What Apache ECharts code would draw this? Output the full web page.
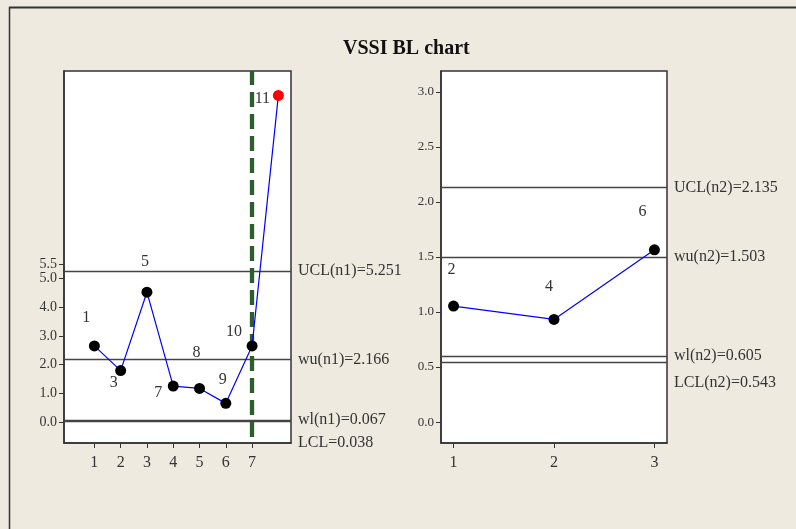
<!DOCTYPE html>
<html>
<head>
<meta charset="utf-8">
<script src="https://cdn.jsdelivr.net/npm/echarts@6/dist/echarts.min.js"></script>
<style>html,body{margin:0;padding:0;background:#EEEAE0;}#c{width:796px;height:529px;}</style>
</head>
<body>
<div id="c"></div>
<script>
// ---- data ----
const titleText = 'VSSI BL chart';
const n1X = [1, 2, 3, 4, 5, 6, 7, 8];
const n1Values = [2.65, 1.79, 4.52, 1.25, 1.17, 0.65, 2.65, 11.37];
const n1Ids = ['1', '3', '5', '7', '8', '9', '10', '11'];
const n1XTicks = [1, 2, 3, 4, 5, 6, 7];
const n1YTicks = [0, 1, 2, 3, 4, 5, 5.5];
const n1LimitNames = ['UCL(n1)', 'wu(n1)', 'wl(n1)', 'LCL'];
const n1LimitValues = [5.251, 2.166, 0.067, 0.038];
const n1Split = 7;

const n2X = [1, 2, 3];
const n2Values = [1.054, 0.933, 1.565];
const n2Ids = ['2', '4', '6'];
const n2XTicks = [1, 2, 3];
const n2YTicks = [0, 0.5, 1, 1.5, 2, 2.5, 3];
const n2LimitNames = ['UCL(n2)', 'wu(n2)', 'wl(n2)', 'LCL(n2)'];
const n2LimitValues = [2.135, 1.503, 0.605, 0.543];

// ---- styles (label placement per point) ----
const n1LabelOffsets = [[-8,-28],[-7,12],[-2,-30],[-15,7],[-3,-36],[-3,-24],[-18,-14],[-16,3]];
const n2LabelOffsets = [[-2,-36],[-5,-33],[-12,-38]];

const FONT = '"Liberation Serif", "DejaVu Serif", serif';
const TXT = '#333';

function pts(xs, ys, ids, offs, ucl) {
  return xs.map((x, i) => ({
    value: [x, ys[i]],
    itemStyle: { color: ys[i] > ucl ? '#ff0000' : '#000000' },
    label: { show: true, position: 'inside', offset: offs[i], formatter: ids[i],
             fontFamily: FONT, fontSize: 16, color: TXT }
  }));
}
function limitLines(names, vals, lastShift) {
  return vals.map((v, i) => ({
    yAxis: v,
    label: {
      show: true, position: 'end', distance: 7, fontFamily: FONT, fontSize: 16, color: TXT,
      lineHeight: lastShift,
      formatter: (i === vals.length - 1 ? '\n\n' : '') + names[i] + '=' + v.toFixed(3)
    }
  }));
}

const chart = echarts.init(document.getElementById('c'));
const axisLbl = (size) => ({ fontFamily: FONT, fontSize: size, color: TXT });
const axLine = { onZero: false, lineStyle: { color: '#333', width: 1.5 } };
chart.setOption({
  backgroundColor: '#EEEAE0',
  animation: false,
  title: { text: titleText, left: 338, top: 34,
    textStyle: { fontFamily: FONT, fontSize: 20, fontWeight: 'bold', color: '#111' } },
  graphic: [
    { type: 'line', shape: { x1: 9, y1: 7.5, x2: 796, y2: 7.5 }, style: { stroke: '#333', lineWidth: 2 } },
    { type: 'line', shape: { x1: 9.5, y1: 7, x2: 9.5, y2: 529 }, style: { stroke: '#333', lineWidth: 1.5 } }
  ],
  grid: [
    { left: 64, top: 71, width: 227, height: 372, show: true, backgroundColor: '#fff', borderColor: '#333', borderWidth: 1.5 },
    { left: 441, top: 71, width: 226, height: 372, show: true, backgroundColor: '#fff', borderColor: '#333', borderWidth: 1.5 }
  ],
  xAxis: [
    { type: 'value', gridIndex: 0, min: -0.155, max: 8.48, splitLine: { show: false },
      axisLine: axLine,
      axisTick: { customValues: n1XTicks, length: 5, inside: false, lineStyle: { color: '#333' } },
      axisLabel: Object.assign({ customValues: n1XTicks, margin: 12 }, axisLbl(16)) },
    { type: 'value', gridIndex: 1, min: 0.875, max: 3.125, splitLine: { show: false },
      axisLine: axLine,
      axisTick: { customValues: n2XTicks, length: 5, inside: false, lineStyle: { color: '#333' } },
      axisLabel: Object.assign({ customValues: n2XTicks, margin: 12 }, axisLbl(16)) }
  ],
  yAxis: [
    { type: 'value', gridIndex: 0, min: -0.73, max: 12.22, splitLine: { show: false },
      axisLine: Object.assign({ show: true }, axLine),
      axisTick: { show: true, inside: false, customValues: n1YTicks, length: 5, lineStyle: { color: '#333' } },
      axisLabel: Object.assign({ customValues: n1YTicks, margin: 7, formatter: v => v.toFixed(1) }, axisLbl(14)) },
    { type: 'value', gridIndex: 1, min: -0.19, max: 3.19, splitLine: { show: false },
      axisLine: Object.assign({ show: true }, axLine),
      axisTick: { show: true, inside: false, customValues: n2YTicks, length: 5, lineStyle: { color: '#333' } },
      axisLabel: Object.assign({ customValues: n2YTicks, margin: 7, formatter: v => v.toFixed(1) }, axisLbl(13)) }
  ],
  series: [
    { type: 'line', xAxisIndex: 0, yAxisIndex: 0, symbol: 'circle', symbolSize: 11, z: 5,
      lineStyle: { color: '#0000ff', width: 1.2 },
      data: pts(n1X, n1Values, n1Ids, n1LabelOffsets, n1LimitValues[0]),
      markLine: { silent: true, symbol: 'none', animation: false,
        lineStyle: { color: '#444', width: 1.3, type: 'solid' },
        data: limitLines(n1LimitNames, n1LimitValues, 22).concat([
          { xAxis: n1Split, label: { show: false },
            lineStyle: { color: '#2e5e2e', width: 4.3, type: [15, 7], dashOffset: -6 } }
        ]) } },
    { type: 'line', xAxisIndex: 1, yAxisIndex: 1, symbol: 'circle', symbolSize: 11, z: 5,
      lineStyle: { color: '#0000ff', width: 1.2 },
      data: pts(n2X, n2Values, n2Ids, n2LabelOffsets, n2LimitValues[0]),
      markLine: { silent: true, symbol: 'none', animation: false,
        lineStyle: { color: '#444', width: 1.3, type: 'solid' },
        data: limitLines(n2LimitNames, n2LimitValues, 20) } }
  ]
});
</script>
</body>
</html>
